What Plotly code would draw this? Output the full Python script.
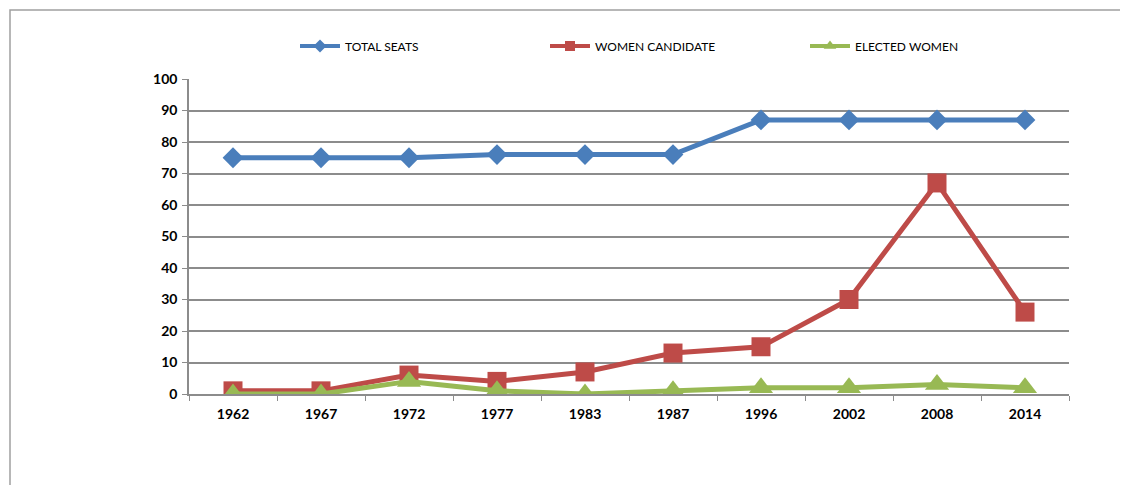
import plotly.graph_objects as go

years = ["1962", "1967", "1972", "1977", "1983", "1987", "1996", "2002", "2008", "2014"]
total_seats = [75, 75, 75, 76, 76, 76, 87, 87, 87, 87]
women_candidate = [1, 1, 6, 4, 7, 13, 15, 30, 67, 26]
elected_women = [0, 0, 4, 1, 0, 1, 2, 2, 3, 2]
y_ticks = [0, 10, 20, 30, 40, 50, 60, 70, 80, 90, 100]

FONT = "Lato, Open Sans, sans-serif"
GRID = "#8c8c8c"
OFF = 8  # body margin of the html page

L, R, T, B = 189 - OFF, 1069 - OFF, 79 - OFF, 394 - OFF
W, H = 1128 - OFF, 485 - OFF
pw, ph = R - L, B - T

def px_x(sx):
    return (sx - OFF - L) / pw

def px_y(sy):
    return 1 - (sy - OFF - T) / ph

series = [
    ("TOTAL SEATS", total_seats, "#4A7EBB", "diamond", 16, 10, "legend"),
    ("WOMEN CANDIDATE", women_candidate, "#BE4B48", "square", 19, 10, "legend2"),
    ("ELECTED WOMEN", elected_women, "#98B954", "triangle-up", 21, 11, "legend3"),
]

fig = go.Figure()
for name, vals, color, sym, msize, lsize, lg in series:
    fig.add_trace(go.Scatter(x=years, y=vals, name=name, mode="lines+markers",
                             line=dict(color=color, width=5),
                             marker=dict(symbol=sym, size=msize, color=color), showlegend=False))
    # legend entry with smaller symbol, as in the reference
    fig.add_trace(go.Scatter(x=[None], y=[None], name=name, mode="lines+markers",
                             line=dict(color=color, width=4),
                             marker=dict(symbol=sym, size=lsize, color=color), legend=lg))

def leg(sx):
    return dict(orientation="h", x=px_x(sx), y=px_y(46), xanchor="left", yanchor="middle",
                font=dict(size=12, family=FONT), itemwidth=40, bgcolor="rgba(0,0,0,0)",
                itemsizing="trace")

fig.update_layout(
    width=W, height=H,
    margin=dict(l=L, r=W - R, t=T, b=H - B, autoexpand=False),
    paper_bgcolor="white", plot_bgcolor="white",
    font=dict(family=FONT, color="black"),
    showlegend=True,
    legend=leg(295), legend2=leg(545), legend3=leg(805),
    xaxis=dict(type="category", range=[-0.5, 9.5], showgrid=False, showline=True, linecolor=GRID,
               linewidth=1.5, ticks="outside", tickson="boundaries", ticklen=5, tickcolor=GRID,
               ticklabelstandoff=6,
               tickfont=dict(size=14, family=FONT, color="black", weight="bold"), zeroline=False),
    yaxis=dict(range=[0, 100], tickvals=y_ticks, showgrid=True, gridcolor=GRID, gridwidth=1.5,
               showline=True, linecolor=GRID, linewidth=1.5, ticks="outside", ticklen=5, tickcolor=GRID,
               ticklabelstandoff=2,
               tickfont=dict(size=14, family=FONT, color="black", weight="bold"), zeroline=False),
    shapes=[dict(type="rect", xref="paper", yref="paper",
                 x0=px_x(10), x1=px_x(1150),
                 y0=px_y(520), y1=px_y(10),
                 line=dict(color="#a0a0a0", width=1.5), layer="below")],
)

fig.write_html("out.html")
